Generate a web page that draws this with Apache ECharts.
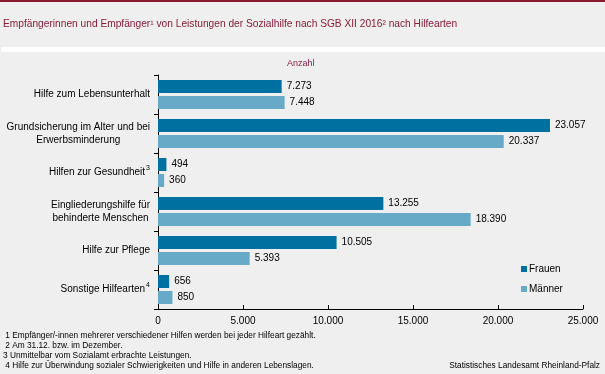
<!DOCTYPE html>
<html><head><meta charset="utf-8">
<script src="https://cdn.jsdelivr.net/npm/echarts@6/dist/echarts.min.js"></script>
<style>html,body{margin:0;padding:0;background:#eeefee}#c{width:605px;height:374px}</style>
</head><body><div id="c"></div>
<script>
const categories = ['Hilfe zum Lebensunterhalt', 'Grundsicherung im Alter und bei\nErwerbsminderung', 'Hilfen zur Gesundheit', 'Eingliederungshilfe für\nbehinderte Menschen', 'Hilfe zur Pflege', 'Sonstige Hilfearten'];
const footnoteMarks = ['', '', '3', '', '', '4'];
const seriesNames = ['Frauen', 'Männer'];
const frauen = [7273, 23057, 494, 13255, 10505, 656];
const maenner = [7448, 20337, 360, 18390, 5393, 850];
const titleText = 'Empfängerinnen und Empfänger¹ von Leistungen der Sozialhilfe nach SGB XII 2016² nach Hilfearten';
const unitLabel = 'Anzahl';
const footnotes = [
  ' 1 Empfänger/-innen mehrerer verschiedener Hilfen werden bei jeder Hilfeart gezählt.',
  ' 2 Am 31.12. bzw. im Dezember.',
  '3 Unmittelbar vom Sozialamt erbrachte Leistungen.',
  ' 4 Hilfe zur Überwindung sozialer Schwierigkeiten und Hilfe in anderen Lebenslagen.'
];
const sourceText = 'Statistisches Landesamt Rheinland-Pfalz';

const FONT = '"Liberation Sans", Arial, sans-serif';
const fmt = v => String(v).replace(/\B(?=(\d{3})+(?!\d))/g, '.');

const chart = echarts.init(document.getElementById('c'), null, {renderer: 'canvas'});
const footGraphics = footnotes.map((t, i) => ({
  type: 'text', left: 3, top: 332 + i * 10,
  style: {text: t, font: '8.3px ' + FONT, fill: '#000'}
}));
chart.setOption({
  backgroundColor: '#eeefee',
  animation: false,
  title: {
    text: titleText, left: 3, top: 19, padding: 0,
    textStyle: {fontFamily: FONT, fontSize: 10.2, fontWeight: 'normal', color: '#8a1c3a'}
  },
  graphic: [
    {type: 'rect', shape: {x: 0, y: 0, width: 605, height: 2}, style: {fill: '#8b1a2e'}},
    {type: 'rect', shape: {x: 1, y: 47, width: 604, height: 5}, style: {fill: '#ffffff'}},
    {type: 'text', left: 287, top: 59, style: {text: unitLabel, font: '9px ' + FONT, fill: '#8c1d4a'}},
    ...footGraphics,
    {type: 'text', right: 5, top: 362, style: {text: sourceText, font: '8.3px ' + FONT, fill: '#000'}}
  ],
  legend: {
    orient: 'vertical', left: 516, top: 259, itemWidth: 6, itemHeight: 6, itemGap: 10,
    icon: 'rect',
    textStyle: {fontFamily: FONT, fontSize: 10, color: '#000', padding: [0, 0, 0, -3]},
    data: seriesNames
  },
  grid: {left: 158, right: 22, top: 75, bottom: 65},
  xAxis: {
    type: 'value', min: 0, max: 25000, interval: 5000,
    axisLine: {show: true, lineStyle: {color: '#000', width: 1}},
    axisTick: {show: true, inside: true, length: 4, lineStyle: {color: '#000'}},
    splitLine: {show: false},
    axisLabel: {fontFamily: FONT, fontSize: 10, color: '#000', margin: 7, formatter: v => fmt(v)}
  },
  yAxis: {
    type: 'category', inverse: true, data: categories,
    axisLine: {show: true, lineStyle: {color: '#000', width: 1}},
    axisTick: {show: true, length: 4, lineStyle: {color: '#000'}},
    axisLabel: {
      fontFamily: FONT, fontSize: 10, color: '#000', margin: 8,
      formatter: (v, i) => {
        const lines = v.split('\n');
        if (lines.length > 1) return lines.map(l => '{c|' + l + '}').join('\n');
        return '{n|' + v + '}' + (footnoteMarks[i] ? '{s|' + footnoteMarks[i] + '}' : '');
      },
      rich: {
        c: {fontFamily: FONT, fontSize: 10, color: '#000', align: 'center', lineHeight: 13},
        n: {fontFamily: FONT, fontSize: 10, color: '#000', lineHeight: 16},
        s: {fontFamily: FONT, fontSize: 7, color: '#000', verticalAlign: 'top', lineHeight: 8, padding: [0, 0, 0, 1]}
      }
    }
  },
  series: [
    {name: seriesNames[0], type: 'bar', data: frauen, barWidth: 13, barGap: '23%',
     itemStyle: {color: '#0070a0'},
     label: {show: true, position: 'right', distance: 5, fontFamily: FONT, fontSize: 10, color: '#000', formatter: p => fmt(p.value)}},
    {name: seriesNames[1], type: 'bar', data: maenner, barWidth: 13, barGap: '23%',
     itemStyle: {color: '#66aac8'},
     label: {show: true, position: 'right', distance: 5, fontFamily: FONT, fontSize: 10, color: '#000', formatter: p => fmt(p.value)}}
  ]
});
</script></body></html>
